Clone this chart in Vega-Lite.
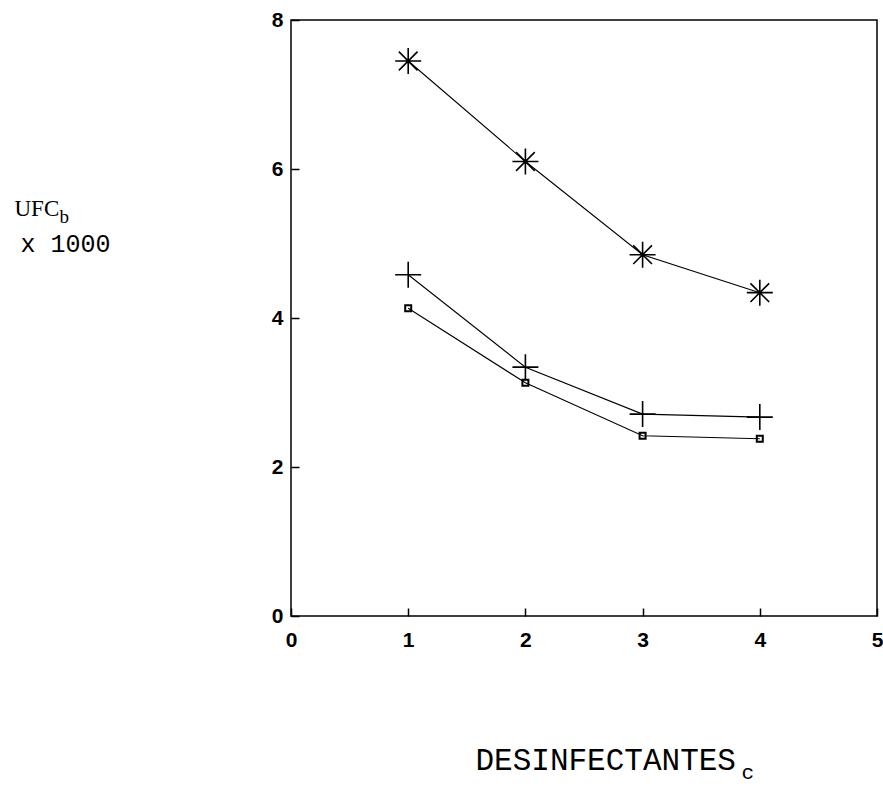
{
  "$schema": "https://vega.github.io/schema/vega-lite/v6.json",
  "width": 586,
  "height": 596,
  "autosize": {"type": "none"},
  "padding": {"left": 291, "top": 20, "right": 6, "bottom": 183},
  "background": "white",
  "config": {
    "view": {"stroke": "black", "strokeWidth": 1.5},
    "axis": {"grid": false, "domain": false, "tickColor": "black", "labelColor": "black", "titleColor": "black"}
  },
  "data": {
    "values": [
      {"desinfectante": 1, "ufc": 7.45, "serie": "asterisco"},
      {"desinfectante": 2, "ufc": 6.10, "serie": "asterisco"},
      {"desinfectante": 3, "ufc": 4.85, "serie": "asterisco"},
      {"desinfectante": 4, "ufc": 4.34, "serie": "asterisco"},
      {"desinfectante": 1, "ufc": 4.58, "serie": "cruz"},
      {"desinfectante": 2, "ufc": 3.34, "serie": "cruz"},
      {"desinfectante": 3, "ufc": 2.71, "serie": "cruz"},
      {"desinfectante": 4, "ufc": 2.67, "serie": "cruz"},
      {"desinfectante": 1, "ufc": 4.13, "serie": "cuadrado"},
      {"desinfectante": 2, "ufc": 3.13, "serie": "cuadrado"},
      {"desinfectante": 3, "ufc": 2.42, "serie": "cuadrado"},
      {"desinfectante": 4, "ufc": 2.38, "serie": "cuadrado"}
    ]
  },
  "layer": [
    {
      "transform": [{"filter": "datum.serie === 'asterisco'"}],
      "mark": {
        "type": "line", "color": "black", "strokeWidth": 1.1,
        "point": {"shape": "M-1,0L1,0M0,-1L0,1M-0.72,-0.72L0.72,0.72M-0.72,0.72L0.72,-0.72", "size": 676, "filled": false, "stroke": "black", "strokeWidth": 1.6}
      },
      "encoding": {
        "x": {
          "field": "desinfectante", "type": "quantitative",
          "scale": {"domain": [0, 5], "nice": false, "zero": false},
          "axis": {
            "orient": "bottom", "values": [0, 1, 2, 3, 4, 5], "tickSize": -8, "tickWidth": 1.5, "labelPadding": 21,
            "labelFont": "Liberation Sans", "labelFontWeight": "bold", "labelFontSize": 21, "labelFlush": false,
            "title": "DESINFECTANTES", "titleFont": "Liberation Mono", "titleFontSize": 31, "titleFontWeight": "normal",
            "titleAnchor": "start", "titleAlign": "left", "titleBaseline": "alphabetic", "titleX": 184, "titleY": 153
          }
        },
        "y": {
          "field": "ufc", "type": "quantitative",
          "scale": {"domain": [0, 8], "nice": false, "zero": true},
          "axis": {
            "orient": "left", "values": [0, 2, 4, 6, 8], "tickSize": -8, "tickWidth": 1.5, "labelPadding": 16,
            "labelFont": "Liberation Sans", "labelFontWeight": "bold", "labelFontSize": 21, "labelFlush": false,
            "title": "UFC", "titleFont": "Liberation Serif", "titleFontSize": 23, "titleFontWeight": "normal",
            "titleAngle": 0, "titleAlign": "left", "titleBaseline": "alphabetic", "titleX": -277, "titleY": 195
          }
        }
      }
    },
    {
      "transform": [{"filter": "datum.serie === 'cruz'"}],
      "mark": {
        "type": "line", "color": "black", "strokeWidth": 1.1,
        "point": {"shape": "M-1,0L1,0M0,-1L0,1", "size": 676, "filled": false, "stroke": "black", "strokeWidth": 1.6}
      },
      "encoding": {
        "x": {
          "field": "desinfectante", "type": "quantitative",
          "scale": {"domain": [0, 5], "nice": false, "zero": false},
          "axis": {
            "orient": "bottom", "labels": false, "ticks": false, "domain": false,
            "title": "c", "titleFont": "Liberation Mono", "titleFontSize": 21, "titleFontWeight": "normal",
            "titleAlign": "left", "titleBaseline": "alphabetic", "titleX": 450, "titleY": 162
          }
        },
        "y": {
          "field": "ufc", "type": "quantitative",
          "scale": {"domain": [0, 8], "nice": false, "zero": true},
          "axis": {
            "orient": "left", "labels": false, "ticks": false, "domain": false,
            "title": "b", "titleFont": "Liberation Serif", "titleFontSize": 19, "titleFontWeight": "normal",
            "titleAngle": 0, "titleAlign": "left", "titleBaseline": "alphabetic", "titleX": -232, "titleY": 202
          }
        }
      }
    },
    {
      "transform": [{"filter": "datum.serie === 'cuadrado'"}],
      "mark": {
        "type": "line", "color": "black", "strokeWidth": 1.1,
        "point": {"shape": "square", "size": 36, "filled": false, "stroke": "black", "strokeWidth": 2}
      },
      "encoding": {
        "x": {
          "field": "desinfectante", "type": "quantitative",
          "scale": {"domain": [0, 5], "nice": false, "zero": false},
          "axis": null
        },
        "y": {
          "field": "ufc", "type": "quantitative",
          "scale": {"domain": [0, 8], "nice": false, "zero": true},
          "axis": {
            "orient": "left", "labels": false, "ticks": false, "domain": false,
            "title": "x 1000", "titleFont": "Liberation Mono", "titleFontSize": 25, "titleFontWeight": "normal",
            "titleAngle": 0, "titleAlign": "left", "titleBaseline": "alphabetic", "titleX": -271, "titleY": 231
          }
        }
      }
    }
  ],
  "resolve": {"axis": {"x": "independent", "y": "independent"}}
}
